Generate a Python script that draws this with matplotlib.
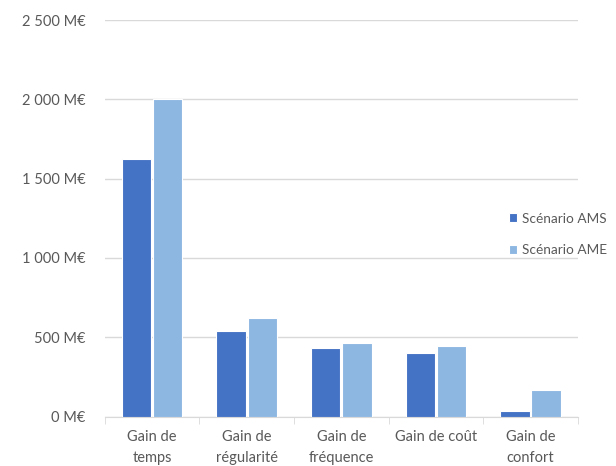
import matplotlib.pyplot as plt
import numpy as np
from matplotlib.ticker import FuncFormatter

categories = ["Gain de\ntemps", "Gain de\nrégularité", "Gain de\nfréquence", "Gain de coût", "Gain de\nconfort"]
ams = [1625, 540, 435, 404, 36]
ame = [2000, 620, 463, 446, 166]
series_names = ["Scénario AMS", "Scénario AME"]
yticks = [0, 500, 1000, 1500, 2000, 2500]

plt.rcParams["font.family"] = ["Lato", "DejaVu Sans"]
text_col = "#595959"
grid_col = "#d9d9d9"

fig = plt.figure(figsize=(6.16, 4.66), dpi=100)
ax = fig.add_axes([0.170, 0.106, 0.768, 0.851])

x = np.arange(len(categories))
w = 0.31
ax.bar(x - w / 2 - 0.01, ams, w, color="#4472C4", edgecolor="white", linewidth=0.8, label=series_names[0], zorder=3)
ax.bar(x + w / 2 + 0.01, ame, w, color="#8DB6E1", edgecolor="white", linewidth=0.8, label=series_names[1], zorder=3)

ax.set_xlim(-0.5, len(categories) - 0.5)
ax.set_ylim(0, 2500)
ax.set_yticks(yticks)
ax.yaxis.set_major_formatter(FuncFormatter(lambda v, _: f"{int(v):,} M€".replace(",", " ")))
ax.grid(axis="y", color=grid_col, linewidth=1, zorder=0)

ax.set_xticks(x)
ax.set_xticklabels(categories, linespacing=1.6)
ax.set_xticks(np.arange(len(categories) + 1) - 0.5, minor=True)
ax.tick_params(axis="x", which="major", length=0, pad=10, labelsize=10.5, colors=text_col)
ax.tick_params(axis="x", which="minor", length=5, color=grid_col)
ax.tick_params(axis="y", length=0, pad=14, labelsize=10.5, colors=text_col)

for s in ["top", "right", "left"]:
    ax.spines[s].set_visible(False)
ax.spines["bottom"].set_color(grid_col)

fig.legend(loc="center left", bbox_to_anchor=(0.815, 0.497), frameon=False, borderpad=0,
           fontsize=9.8, labelcolor=text_col, handlelength=0.6, handleheight=0.6,
           handletextpad=0.4, labelspacing=1.45)

fig.savefig("out.png", dpi=100)
